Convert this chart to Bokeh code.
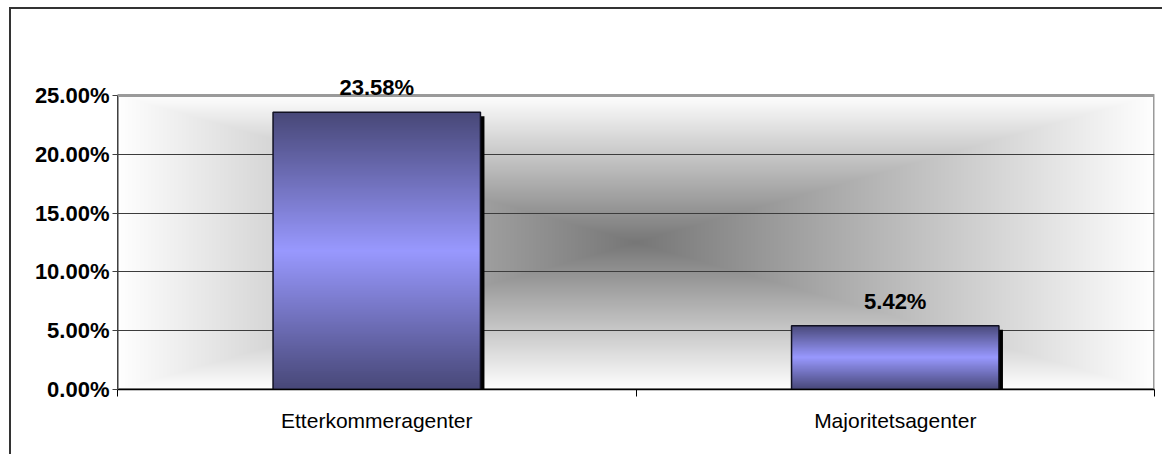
import numpy as np
from bokeh.plotting import figure
from bokeh.models import Range1d, FixedTicker, PrintfTickFormatter, ColumnDataSource, LabelSet
from bokeh.core.properties import value
from bokeh.embed import file_html
from bokeh.resources import INLINE

categories = ["Etterkommeragenter", "Majoritetsagenter"]
shares = [23.58, 5.42]
share_labels = ["23.58%", "5.42%"]
y_ticks = [0, 5, 10, 15, 20, 25]

FONT = "Liberation Sans"
AREA_W, AREA_H = 1037, 294          # size of the shaded plot area in px
HEADROOM = 40                       # px of frame kept above the plot area for labels
Y_MAX = y_ticks[-1]
PPU = AREA_H / Y_MAX                # px per percentage point
N_CAT = len(categories)
BAR_W = 0.4

centers = [i + 0.5 for i in range(N_CAT)]


def rgba(r, g, b):
    h, w = r.shape
    out = np.empty((h, w), dtype=np.uint32)
    v = out.view(dtype=np.uint8).reshape((h, w, 4))
    v[:, :, 0] = r
    v[:, :, 1] = g
    v[:, :, 2] = b
    v[:, :, 3] = 255
    return out


# rectangular "from centre" shading of the plot area
ry = np.abs((np.arange(AREA_H) + 0.5) / AREA_H * 2 - 1)
rx = np.abs((np.arange(AREA_W) + 0.5) / AREA_W * 2 - 1)
t = np.maximum(rx[None, :], ry[:, None])
g = (0x77 + (0xFF - 0x77) * t).astype(np.uint8)
bg = rgba(g, g, g)

# bar fill: dark at both ends, light in the middle
n = 300
tb = np.abs((np.arange(n) + 0.5) / n * 2 - 1)[:, None] * np.ones((1, 2))
dark = np.array([0x48, 0x48, 0x78])
light = np.array([0x99, 0x99, 0xFF])
chan = [(light[k] + (dark[k] - light[k]) * tb).astype(np.uint8) for k in range(3)]
bar_img = rgba(*chan)

p = figure(
    frame_width=AREA_W, frame_height=AREA_H + HEADROOM,
    x_range=Range1d(0, N_CAT), y_range=Range1d(0, Y_MAX + HEADROOM / PPU),
    output_backend="svg", toolbar_location=None,
    min_border_left=106, min_border_right=8,
    min_border_top=86 - HEADROOM, min_border_bottom=65,
    background_fill_color="white", border_fill_color="white",
)
p.margin = (7, 0, 0, 9)
p.styles = {"border-top": "2px solid #333333", "border-left": "2px solid #333333"}
p.outline_line_color = None

p.image_rgba(image=[bg], x=0, y=0, dw=N_CAT, dh=Y_MAX, level="image")
# plot-area border (top and right edges show; axes cover the others)
p.quad(left=0, right=N_CAT, bottom=0, top=Y_MAX, fill_alpha=0,
       line_color="#9a9a9a", line_width=3, level="underlay")

src = ColumnDataSource(dict(
    left=[c - BAR_W / 2 for c in centers],
    right=[c + BAR_W / 2 for c in centers],
    x=centers,
    share=shares,
    label=share_labels,
    img=[bar_img] * N_CAT,
))

# drop shadow offset a few pixels right and down
dx = 4 * N_CAT / AREA_W
dy = 4 / PPU
shadow = ColumnDataSource(dict(
    left=[c - BAR_W / 2 + dx for c in centers],
    right=[c + BAR_W / 2 + dx for c in centers],
    top=[s - dy for s in shares],
))
p.quad(left="left", right="right", bottom=0, top="top", source=shadow,
       fill_color="black", line_color=None)

p.image_rgba(image="img", x="left", y=0, dw=BAR_W, dh="share", source=src)
p.quad(left="left", right="right", bottom=0, top="share", source=src,
       fill_alpha=0, line_color="#111122", line_width=1.5)

labels = LabelSet(x="x", y="share", text="label", source=src,
                  text_align="center", text_baseline="alphabetic", y_offset=17,
                  text_font=value(FONT), text_font_size=value("22px"),
                  text_font_style="bold", text_color="black")
p.add_layout(labels)

p.xgrid.grid_line_color = None
p.ygrid.ticker = FixedTicker(ticks=y_ticks[1:-1])
p.ygrid.grid_line_color = "#3c3c3c"
p.ygrid.grid_line_width = 1

p.yaxis.ticker = FixedTicker(ticks=y_ticks)
p.yaxis.bounds = (0, Y_MAX)
p.yaxis.formatter = PrintfTickFormatter(format="%.2f%%")
p.yaxis.major_label_text_font = FONT
p.yaxis.major_label_text_font_size = "22px"
p.yaxis.major_label_text_font_style = "bold"
p.yaxis.major_label_text_color = "black"
p.yaxis.major_tick_out = 5
p.yaxis.major_tick_in = 0
p.yaxis.minor_tick_line_color = None
p.yaxis.axis_line_color = "#404040"
p.yaxis.major_tick_line_color = "#404040"
p.yaxis.major_label_standoff = 3

p.xaxis.ticker = FixedTicker(ticks=centers, minor_ticks=list(range(N_CAT + 1)))
p.xaxis.major_label_overrides = {c: name for c, name in zip(centers, categories)}
p.xaxis.major_label_text_font = FONT
p.xaxis.major_label_text_font_size = "21px"
p.xaxis.major_label_text_color = "black"
p.xaxis.major_tick_line_color = None
p.xaxis.major_tick_out = 0
p.xaxis.major_tick_in = 0
p.xaxis.minor_tick_out = 7
p.xaxis.minor_tick_in = 0
p.xaxis.minor_tick_line_color = "black"
p.xaxis.axis_line_color = "black"
p.xaxis.axis_line_width = 1.5
p.xaxis.major_label_standoff = 12

open("out.html", "w").write(file_html(p, INLINE))
